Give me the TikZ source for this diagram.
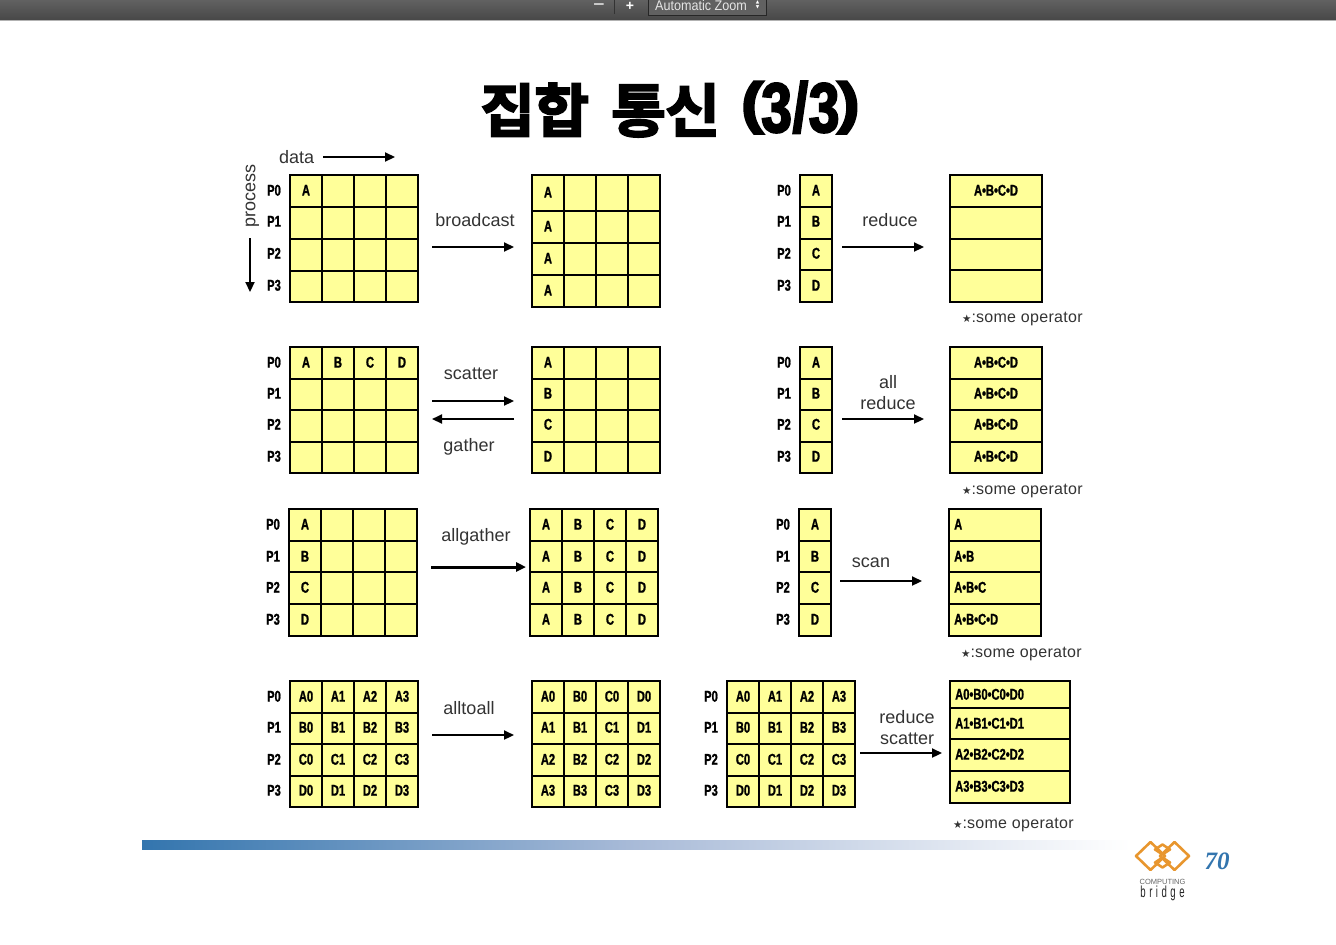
\documentclass[tikz,border=0pt]{standalone}
\usepackage{fontspec}
\setmainfont{Liberation Sans}
\newfontfamily\condf[FakeStretch=0.72,BoldFont={Liberation Sans Bold},BoldFeatures={FakeStretch=0.72,FakeBold=1.2}]{Liberation Sans}
\newfontfamily\barf[FakeStretch=0.6]{Liberation Sans}
\newfontfamily\wideb[FakeStretch=1.6]{Liberation Sans Bold}
\newfontfamily\titlef[FakeStretch=1.03,FakeBold=3]{Noto Sans CJK KR Bold}
\newfontfamily\titlelat[FakeStretch=0.78,FakeBold=3]{Liberation Sans Bold}
\newfontfamily\titlepar[FakeStretch=1.2,FakeBold=4]{Liberation Sans Bold}
\newfontfamily\symf{DejaVu Sans}
\newfontfamily\numf{Liberation Serif}
\usetikzlibrary{arrows.meta}
\definecolor{cellyellow}{HTML}{FFFF99}
\definecolor{barblue}{HTML}{3375AE}
\definecolor{barmid}{HTML}{A9BBD8}
\definecolor{logoor}{HTML}{E8962E}
\tikzset{
  gridbox/.style={draw=black,line width=1.6pt,fill=cellyellow,inner sep=0pt,outer sep=0pt},
  gridline/.style={draw=black,line width=1.3pt},
  cell/.style={inner sep=0pt,font=\condf\bfseries\fontsize{15.5}{15}\selectfont,text=black},
  lab/.style={inner sep=0pt,font=\fontsize{18}{21}\selectfont,text=black!80,align=center},
  arr/.style={draw=black,line width=2.2pt,-{Triangle[length=10pt,width=9pt]}},
  diam/.style={draw=logoor,line width=2.6pt,line join=round},
}
\newcounter{nn}
\newcommand\tbl[7]{% name x0 x1 y0 y1 innerxs innerys
  \pgfmathsetmacro\cx{(#2+#3)/2}\pgfmathsetmacro\cy{(#4+#5)/2}
  \pgfmathsetmacro\ww{#3-#2}\pgfmathsetmacro\hh{#5-#4}
  \node[gridbox,minimum width=\ww pt,minimum height=\hh pt] (#1) at (\cx,\cy) {};
  \foreach \v in {#6}{\draw[gridline] (\v,#4) -- (\v,#5);}
  \foreach \v in {#7}{\draw[gridline] (#2,\v) -- (#3,\v);}
}
\newcommand\tx[3]{\stepcounter{nn}\node[cell,yshift=0.7pt] (c\thenn) at (#1,#2) {#3};}
\newcommand\lx[3]{\stepcounter{nn}\node[cell,anchor=west,yshift=0.7pt] (c\thenn) at (#1,#2) {#3};}
\newcommand\rowc[3]{\foreach \t [count=\i] in {#3}{\pgfmathsetmacro\xx{#1+16+32*(\i-1)}\tx{\xx}{#2}{\t}}}
\newcommand\procs[5]{\tx{#1}{#2}{P0}\tx{#1}{#3}{P1}\tx{#1}{#4}{P2}\tx{#1}{#5}{P3}}
\newcommand\link[6]{\coordinate (#1a) at (#2,#3);\coordinate (#1b) at (#4,#5);\draw[arr,#6] (#1a) -- (#1b);}
\newcommand\oper[3]{\node[lab,anchor=west,font=\fontsize{16}{18}\selectfont] (#1) at (#2,#3+1) {{\symf\fontsize{10.5}{10}\selectfont ★}:\addfontfeature{LetterSpace=2}some operator};}
\begin{document}
\begin{tikzpicture}[x=1pt,y=-1pt]
\useasboundingbox (0,0) rectangle (1336,945);
% viewer bar
\begin{scope}
\clip (0,0) rectangle (1336,21);
\fill[top color=black!62,bottom color=black!72] (0,0) rectangle (1336,20);
\fill[black!30] (0,20) rectangle (1336,21);
\draw[black!80,line width=0.8pt] (614,0) -- (614,14);
\fill[black!62,draw=black!85] (648,-4) rectangle (766,15);
\node[inner sep=0pt,text=white,font=\wideb\fontsize{12}{12}\selectfont] (minus) at (599,6) {−};
\node[inner sep=0pt,text=white,font=\fontsize{14}{14}\selectfont\bfseries] (plus) at (630,6) {+};
\node[inner sep=0pt,text=white!90!black,anchor=west,font=\condf\fontsize{14}{14}\selectfont\addfontfeature{FakeStretch=0.9}] (zoomt) at (655,5) {Automatic Zoom};
\node[inner sep=0pt,text=white,align=center,font=\symf\fontsize{4.5}{5}\selectfont] (zu) at (757.5,5) {▲\\▼};
\end{scope}
% title
\node[inner sep=0pt,text=black,anchor=base west] (title) at (480,132) {\fontsize{58}{58}\selectfont\titlef 집\kern-1pt 합\hspace{22pt}통\kern-1pt 신\hspace{21pt}\raisebox{10pt}{\titlepar\fontsize{56}{56}\selectfont (}\kern-2pt{\titlelat\fontsize{70}{70}\selectfont 3\kern1pt/\kern1pt3}\kern-2pt\raisebox{10pt}{\titlepar\fontsize{56}{56}\selectfont )}};
% data / process
\node[lab,anchor=west] (data) at (279,157) {data};
\link{d}{323}{157}{395}{157}{}
\node[lab,rotate=90] (process) at (252.5,196) {process};
\link{p}{250}{238}{250}{292}{}
% row 1
\tbl{t1}{290}{418}{175}{302}{322,354,386}{207,239,271}
\procs{274}{191}{222}{254}{286}
\rowc{290}{191}{A}
\tbl{t2}{532}{660}{175}{307}{564,596,628}{211,243,275}
\tx{548}{193}{A}\tx{548}{227}{A}\tx{548}{259}{A}\tx{548}{291}{A}
\node[lab] (lb) at (475,220) {broadcast};
\link{a1}{432}{247}{514}{247}{}
\tbl{t3}{800}{832}{175}{302}{}{207,239,270}
\procs{784}{191}{222}{254}{286}
\tx{816}{191}{A}\tx{816}{222}{B}\tx{816}{254}{C}\tx{816}{286}{D}
\tbl{t4}{950}{1042}{175}{302}{}{207,239,270}
\tx{996}{191}{A•B•C•D}
\node[lab] (lr) at (890,220) {reduce};
\link{a2}{842}{247}{924}{247}{}
\oper{o1}{962}{318}
% row 2
\tbl{t5}{290}{418}{347}{473}{322,354,386}{379,410,442}
\procs{274}{363}{394}{425}{457}
\rowc{290}{363}{A,B,C,D}
\tbl{t6}{532}{660}{347}{473}{564,596,628}{379,410,442}
\tx{548}{363}{A}\tx{548}{394}{B}\tx{548}{425}{C}\tx{548}{457}{D}
\node[lab] (ls) at (471,374) {scatter};
\link{a3}{432}{401}{514}{401}{}
\link{a4}{514}{419}{432}{419}{}
\node[lab] (lg) at (469,447) {gather};
\tbl{t7}{800}{832}{347}{473}{}{379,410,442}
\procs{784}{363}{394}{425}{457}
\tx{816}{363}{A}\tx{816}{394}{B}\tx{816}{425}{C}\tx{816}{457}{D}
\tbl{t8}{950}{1042}{347}{473}{}{379,410,442}
\tx{996}{363}{A•B•C•D}\tx{996}{394}{A•B•C•D}\tx{996}{425}{A•B•C•D}\tx{996}{457}{A•B•C•D}
\node[lab] (lar) at (888,393) {all\\reduce};
\link{a5}{842}{419}{924}{419}{}
\oper{o2}{962}{490}
% row 3
\tbl{t9}{289}{417}{509}{636}{321,353,385}{541,572,604}
\procs{273}{525}{557}{588}{620}
\tx{305}{525}{A}\tx{305}{557}{B}\tx{305}{588}{C}\tx{305}{620}{D}
\tbl{t10}{530}{658}{509}{636}{562,594,626}{541,572,604}
\rowc{530}{525}{A,B,C,D}\rowc{530}{557}{A,B,C,D}\rowc{530}{588}{A,B,C,D}\rowc{530}{620}{A,B,C,D}
\node[lab] (lag) at (476,537) {allgather};
\link{a6}{431}{567}{526}{567}{line width=3pt}
\tbl{t11}{799}{831}{509}{636}{}{541,572,604}
\procs{783}{525}{557}{588}{620}
\tx{815}{525}{A}\tx{815}{557}{B}\tx{815}{588}{C}\tx{815}{620}{D}
\tbl{t12}{949}{1041}{509}{636}{}{541,572,604}
\lx{954}{525}{A}\lx{954}{557}{A•B}\lx{954}{588}{A•B•C}\lx{954}{620}{A•B•C•D}
\node[lab] (lsc) at (871,563) {scan};
\link{a7}{840}{581}{922}{581}{}
\oper{o3}{961}{653}
% row 4
\tbl{t13}{290}{418}{681}{807}{322,354,386}{713,744,776}
\procs{274}{697}{728}{760}{791}
\rowc{290}{697}{A0,A1,A2,A3}\rowc{290}{728}{B0,B1,B2,B3}\rowc{290}{760}{C0,C1,C2,C3}\rowc{290}{791}{D0,D1,D2,D3}
\tbl{t14}{532}{660}{681}{807}{564,596,628}{713,744,776}
\rowc{532}{697}{A0,B0,C0,D0}\rowc{532}{728}{A1,B1,C1,D1}\rowc{532}{760}{A2,B2,C2,D2}\rowc{532}{791}{A3,B3,C3,D3}
\node[lab] (lat) at (469,708) {alltoall};
\link{a8}{432}{735}{514}{735}{}
\tbl{t15}{727}{855}{681}{807}{759,791,823}{713,744,776}
\procs{711}{697}{728}{760}{791}
\rowc{727}{697}{A0,A1,A2,A3}\rowc{727}{728}{B0,B1,B2,B3}\rowc{727}{760}{C0,C1,C2,C3}\rowc{727}{791}{D0,D1,D2,D3}
\tbl{t16}{950}{1070}{681}{803}{}{708,739,771}
\lx{955}{695}{A0•B0•C0•D0}\lx{955}{724}{A1•B1•C1•D1}\lx{955}{755}{A2•B2•C2•D2}\lx{955}{787}{A3•B3•C3•D3}
\node[lab] (lrs) at (907,728) {reduce\\scatter};
\link{a9}{860}{753}{942}{753}{}
\oper{o4}{953}{824}
% footer
\fill[left color=barblue,right color=white,middle color=barmid] (142,840) rectangle (1130,849);
\draw[diam] (1136,856) -- (1150.5,842) -- (1165,856) -- (1150.5,870) -- cycle;
\draw[diam] (1160,856) -- (1174.5,842) -- (1189,856) -- (1174.5,870) -- cycle;
\draw[diam] (1155,849.5) -- (1162.5,844.5) -- (1170,849.5) -- (1162.5,854.5) -- cycle;
\draw[diam] (1155,862.5) -- (1162.5,857.5) -- (1170,862.5) -- (1162.5,867.5) -- cycle;
\node[inner sep=0pt,text=black!60,font=\fontsize{7.5}{8}\selectfont] (comp) at (1162.5,881.5) {COMPUTING};
\node[inner sep=0pt,text=black!85,font=\barf\fontsize{16}{15}\selectfont] (brg) at (1162.5,893.5) {b\kern3.5pt r\kern3.5pt i\kern3.5pt d\kern3.5pt g\kern3.5pt e};
\node[inner sep=0pt,text=barblue,font=\numf\bfseries\itshape\fontsize{25}{25}\selectfont] (pg) at (1217,861) {70};
\end{tikzpicture}
\end{document}
